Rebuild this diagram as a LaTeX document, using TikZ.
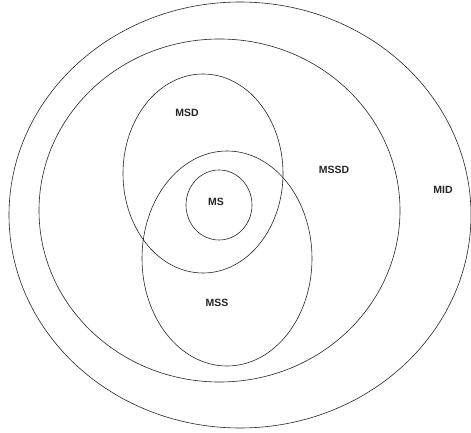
\documentclass[tikz,border=0pt]{standalone}
\usepackage{fontspec}
\setmainfont{Liberation Sans}
\begin{document}
\begin{tikzpicture}[x=1pt,y=-1pt,
  ring/.style={draw=black!85,line width=0.6pt},
  lbl/.style={font=\fontsize{10.5}{12}\selectfont\bfseries,text=black!85,inner sep=0pt}]
\useasboundingbox[fill=white] (0,0) rectangle (471,433);
\draw[ring] (240,215) ellipse [x radius=231, y radius=213];
\draw[ring] (219.5,210.5) ellipse [x radius=180.5, y radius=171.5];
\draw[ring] (203,173.5) ellipse [x radius=80, y radius=99.5];
\draw[ring] (227,258.5) ellipse [x radius=85, y radius=107.5];
\draw[ring] (219,205) ellipse [x radius=33, y radius=35];
\node[lbl] (msd) at (187,113) {MSD};
\node[lbl] (mssd) at (334,170) {MSSD};
\node[lbl] (mid) at (443,190) {MID};
\node[lbl] (ms) at (216,202) {MS};
\node[lbl] (mss) at (217,303) {MSS};
\end{tikzpicture}
\end{document}
